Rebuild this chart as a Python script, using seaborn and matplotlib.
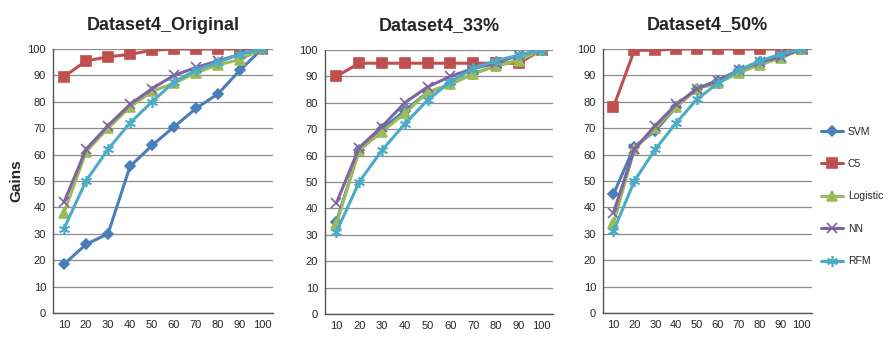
import numpy as np
import pandas as pd
import seaborn as sns
import matplotlib.pyplot as plt

# deciles on the x axis
deciles = [10, 20, 30, 40, 50, 60, 70, 80, 90, 100]
models = ['SVM', 'C5', 'Logistic', 'NN', 'RFM']
titles = ['Dataset4_Original', 'Dataset4_33%', 'Dataset4_50%']

# gains per model, one list per panel
svm = [
    [18.5, 26, 30, 55.5, 63.5, 70.5, 77.5, 83, 92, 100],
    [35, 62, 70, 77, 84, 87, 91, 94, 96, 100],
    [45, 63, 69, 78, 85, 88, 92, 95, 98, 100],
]
c5 = [
    [89.5, 95.5, 97, 98, 99.5, 100, 100, 100, 100, 100],
    [90, 95, 95, 95, 95, 95, 95, 95, 95, 100],
    [78, 99.5, 99.5, 100, 100, 100, 100, 100, 100, 100],
]
logistic = [
    [38, 61, 70, 78, 84, 87, 91, 94, 96, 100],
    [34, 62, 69, 76, 84, 87, 91, 94, 96, 100],
    [34, 62, 70, 78, 85, 87, 91, 94, 96.5, 100],
]
nn = [
    [42, 62, 71, 79, 85, 90, 93, 95.5, 98, 100],
    [42, 63, 71, 80, 86, 90, 93, 95, 98, 100],
    [38, 62, 71, 79, 85, 88, 92, 95, 97, 100],
]
rfm = [
    [32, 50, 62, 72, 80, 87.5, 92, 95, 98, 100],
    [31, 50, 62, 72, 81, 88, 93, 96, 98, 100],
    [31, 50, 62, 72, 81, 87, 92, 95.5, 98, 100],
]

series = {'SVM': svm, 'C5': c5, 'Logistic': logistic, 'NN': nn, 'RFM': rfm}
colors = {'SVM': '#4A7EBB', 'C5': '#C0504D', 'Logistic': '#9BBB59',
          'NN': '#8064A2', 'RFM': '#4BACC6'}
markers = {'SVM': 'D', 'C5': 's', 'Logistic': '^', 'NN': 'x', 'RFM': (6, 2, 0)}
msizes = {'SVM': 5, 'C5': 7, 'Logistic': 7, 'NN': 7, 'RFM': 8}

sns.set_style('white')
plt.rcParams['font.family'] = ['Liberation Sans', 'DejaVu Sans']

fig = plt.figure(figsize=(8.94, 3.39), dpi=100)
positions = [
    [0.0593, 0.0767, 0.2461, 0.7788],
    [0.3635, 0.0737, 0.2550, 0.7788],
    [0.6745, 0.0767, 0.2338, 0.7788],
]

for i, pos in enumerate(positions):
    ax = fig.add_axes(pos)
    for m in models:
        df = pd.DataFrame({'decile': deciles, 'gain': series[m][i]})
        sns.lineplot(data=df, x='decile', y='gain', ax=ax, color=colors[m],
                     marker=markers[m], markersize=msizes[m], linewidth=2.2,
                     markeredgecolor=colors[m], markeredgewidth=1.2, label=m,
                     legend=False)
    ax.set_xlim(5, 105)
    ax.set_ylim(0, 100)
    ax.set_xticks(deciles)
    ax.set_yticks(np.arange(0, 101, 10))
    ax.tick_params(axis='both', labelsize=8, length=3, color='#888888', pad=2)
    ax.yaxis.grid(True, color='#8c8c8c', linewidth=0.9)
    ax.set_axisbelow(True)
    for s in ['top', 'right']:
        ax.spines[s].set_visible(False)
    for s in ['left', 'bottom']:
        ax.spines[s].set_color('#555555')
        ax.spines[s].set_linewidth(1.0)
    ax.set_xlabel('')
    ax.set_ylabel('')
    ax.set_title(titles[i], fontsize=13, fontweight='bold', pad=14)
    if i == 0:
        ax.set_ylabel('Gains', fontsize=11, fontweight='bold', labelpad=3)
    if i == 2:
        handles, labels = ax.get_legend_handles_labels()

fig.legend(handles, labels, loc='upper left', bbox_to_anchor=(0.911, 0.645),
           frameon=False, fontsize=7.5, labelspacing=2.15, handlelength=2.1,
           handletextpad=0.5, borderaxespad=0.2)

plt.savefig('out.png', dpi=100)
